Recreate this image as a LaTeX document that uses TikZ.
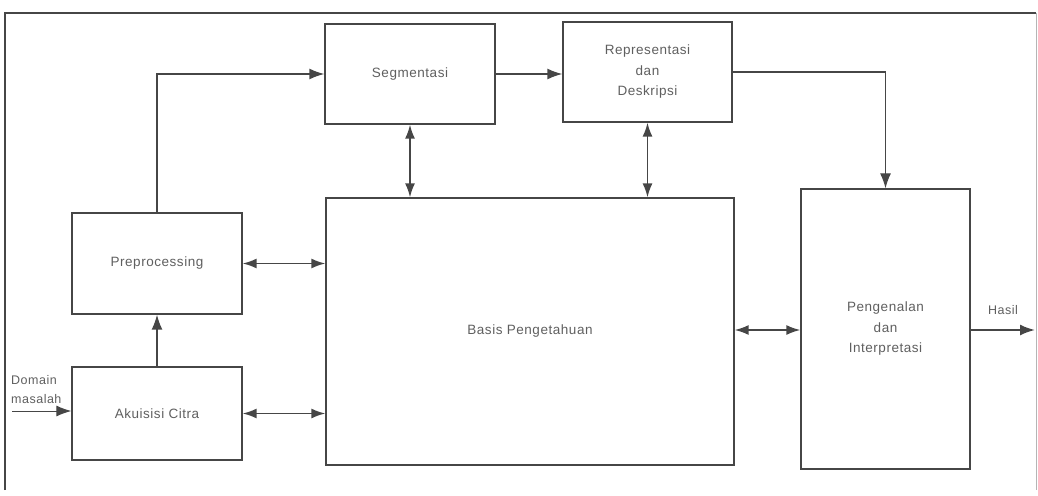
\documentclass[tikz,border=0pt]{standalone}
\usepackage{fontspec}
\setmainfont{Liberation Sans}[LetterSpace=4]
\usetikzlibrary{arrows.meta}
\definecolor{ln}{RGB}{70,70,70}
\definecolor{tx}{RGB}{95,95,95}
\tikzset{
  blk/.style={draw=ln, line width=1.3pt, inner sep=0pt, text=tx, font=\fontsize{13.5}{20.5}\selectfont, align=center},
  tip/.style={Latex[length=15pt,width=11pt]},
  con/.style={draw=ln, line width=1.6pt, -{Latex[length=15pt,width=11pt]}},
  bicon/.style={draw=ln, line width=1.6pt, {Latex[length=14pt,width=10pt]}-{Latex[length=14pt,width=10pt]}},
  lbl/.style={text=tx, font=\fontsize{12.5}{19}\selectfont, inner sep=1pt, align=left}
}
\begin{document}
\begin{tikzpicture}[x=1pt,y=-1pt]
\useasboundingbox (0,0) rectangle (1038,495);
% frame
\draw[ln, line width=1.3pt] (5,490) -- (5,13) -- (1036,13);
\draw[ln!40, line width=0.8pt] (1036,13) -- (1036,490);
% boxes
\node[blk, minimum width=170pt, minimum height=100pt] (seg) at (410,74) {Segmentasi};
\node[blk, minimum width=169pt, minimum height=100pt] (rep) at (647.5,72) {Representasi\\dan\\Deskripsi};
\node[blk, minimum width=170pt, minimum height=101pt] (pre) at (157,263.5) {Preprocessing};
\node[blk, minimum width=170pt, minimum height=93pt] (aku) at (157,413.5) {Akuisisi Citra};
\node[blk, minimum width=408pt, minimum height=267pt] (bas) at (530,331.5) {Basis Pengetahuan};
\node[blk, minimum width=169pt, minimum height=280pt] (pen) at (885.5,329) {Pengenalan\\dan\\Interpretasi};
% coordinates
\coordinate (din) at (12,411);
\coordinate (hout) at (1035,330);
% connectors
\draw[con] (pre.north) |- (seg.west);
\draw[con] (seg.east) -- (seg.east -| rep.west);
\draw[con, line width=1.2pt] (rep.east) -| (pen.north);
\draw[bicon] (seg.south) -- (seg.south |- bas.north);
\draw[bicon] (rep.south) -- (rep.south |- bas.north);
\draw[bicon] (pre.east) -- (pre.east -| bas.west);
\draw[bicon] (aku.east) -- (aku.east -| bas.west);
\draw[con] (aku.north) -- (pre.south);
\draw[con, line width=1pt] (din) -- (din -| aku.west);
\draw[bicon] (bas.east |- 0,330) -- (pen.west |- 0,330);
\draw[con, line width=2pt] (pen.east |- hout) -- (hout);
% labels
\node[lbl, anchor=south west] (dom) at (10,405) {Domain\\masalah};
\node[lbl] (has) at (1003,310) {Hasil};
\end{tikzpicture}
\end{document}
